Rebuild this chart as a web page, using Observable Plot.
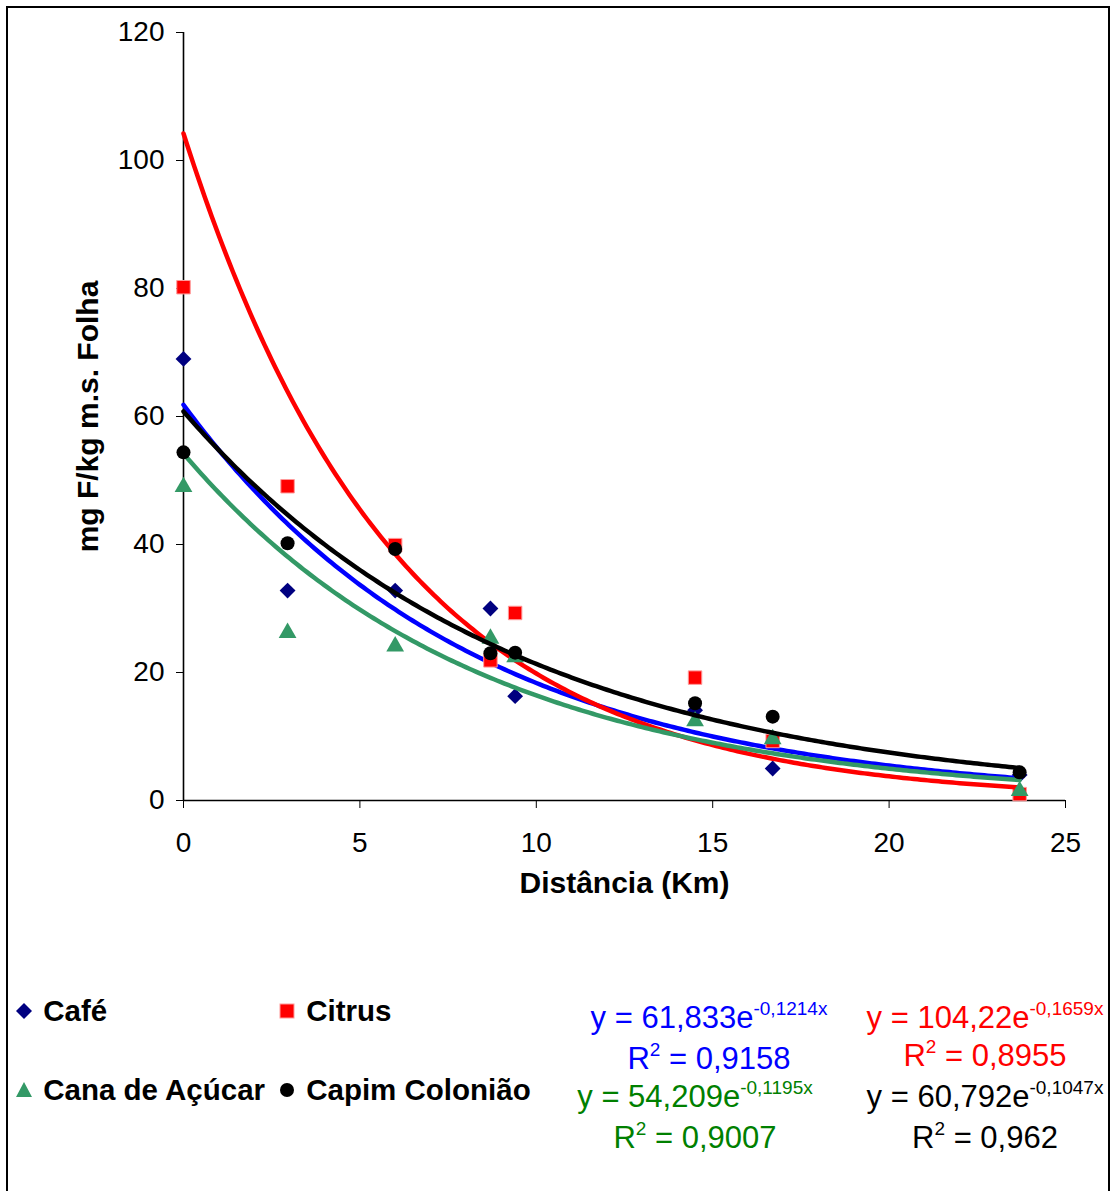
<!DOCTYPE html>
<html>
<head>
<meta charset="utf-8">
<script src="https://cdn.jsdelivr.net/npm/d3@7"></script>
<script src="https://cdn.jsdelivr.net/npm/@observablehq/plot@0.6"></script>
<style>
  html, body { margin: 0; padding: 0; background: #fff; }
  body { width: 1112px; height: 1191px; position: relative; overflow: hidden; font-family: "Liberation Sans", Arial, sans-serif; }
  #frame { position: absolute; left: 6px; top: 6px; width: 1104px; height: 1200px; box-sizing: border-box; border: 2px solid #000; pointer-events: none; z-index: 5; }
  #chart { position: absolute; left: 0; top: 0; }
  .leg { position: absolute; font-weight: bold; font-size: 29.5px; white-space: nowrap; line-height: 30px; height: 30px; }
  .leg svg { vertical-align: middle; margin-right: 2px; position: relative; top: -2px; }
  .eq { position: absolute; width: 320px; text-align: center; font-size: 31px; white-space: nowrap; line-height: 30px; height: 30px; }
  .eq sup { font-size: 19px; vertical-align: 0; position: relative; top: -13px; }
</style>
</head>
<body>
<div id="frame"></div>
<div id="chart"></div>
<script>
// ---- data ----
const seriesNames = ["Café", "Citrus", "Cana de Açúcar", "Capim Colonião"];
const distances = [0, 2.95, 6.0, 8.7, 9.4, 14.5, 16.7, 23.7];
const cafe   = [69.0, 32.8, 32.8, 30.0, 16.3, 14.1, 5.0, 4.0];
const citrus = [80.2, 49.1, 39.9, 21.9, 29.3, 19.2, 9.3, 1.0];
const cana   = [49.0, 26.2, 24.1, 25.3, 22.4, 12.4, 9.6, 1.5];
const capim  = [54.4, 40.2, 39.3, 23.0, 23.1, 15.2, 13.1, 4.4];
// exponential trend line coefficients y = a * e^(b x), as printed on the chart
const trendA = [61.833, 104.22, 54.209, 60.792];
const trendB = [-0.1214, -0.1659, -0.1195, -0.1047];
const trendR2 = ["0,9158", "0,8955", "0,9007", "0,962"];
const xTicks = [0, 5, 10, 15, 20, 25];
const yTicks = [0, 20, 40, 60, 80, 100, 120];

// ---- styles ----
const markerColors = ["#000080", "#FF0000", "#339966", "#000000"];
const lineColors = ["#0000FF", "#FF0000", "#339966", "#000000"];
const diamond = { draw(ctx, size) { const h = Math.sqrt(size) * 0.62; ctx.moveTo(0, -h); ctx.lineTo(h, 0); ctx.lineTo(0, h); ctx.lineTo(-h, 0); ctx.closePath(); } };
const symbols = [diamond, "square", "triangle", "circle"];
const radii = [7.2, 7.6, 6.6, 7.0];

const values = [cafe, citrus, cana, capim];
const points = values.map((vals, s) => distances.map((d, i) => ({ x: d, y: vals[i], s })));
const xMax = d3.max(distances);
const trendX = d3.range(0, xMax + 1e-9, 0.1).concat([xMax]);
const trends = trendA.map((a, s) => trendX.map(x => ({ x, y: a * Math.exp(trendB[s] * x) })));

const seriesMarks = [];
for (let s = 0; s < 4; s++) {
  seriesMarks.push(Plot.dot(points[s], {
    x: "x", y: "y", symbol: () => symbols[s], r: radii[s],
    fill: markerColors[s],
    stroke: s === 1 ? "#ff9a9a" : "none", strokeWidth: 1
  }));
  seriesMarks.push(Plot.line(trends[s], {
    x: "x", y: "y", stroke: lineColors[s], strokeWidth: 4.5, strokeLinejoin: "round"
  }));
}

const chart = Plot.plot({
  width: 1112,
  height: 930,
  marginLeft: 183,
  marginRight: 47,
  marginTop: 32,
  marginBottom: 130,
  x: { domain: [0, 25] },
  y: { domain: [0, 120] },
  symbol: { type: "identity" },
  style: { fontFamily: "'Liberation Sans', Arial, sans-serif", fontSize: "28px", color: "#000", background: "transparent", overflow: "visible" },
  marks: [
    Plot.axisY({ ticks: yTicks, tickSize: 7, tickPadding: 12, label: null, tickFormat: d => String(d) }),
    Plot.axisX({ ticks: xTicks, tickSize: 8, tickPadding: 24, label: null, tickFormat: d => String(d) }),
    Plot.ruleX([0], { strokeWidth: 1.6 }),
    Plot.ruleY([0], { strokeWidth: 1.6 }),
    ...seriesMarks,
    Plot.text(["mg F/kg m.s. Folha"], { frameAnchor: "left", dx: -95, rotate: -90, textAnchor: "middle", fontWeight: "bold", fontSize: 30 }),
    Plot.text(["Distância (Km)"], { frameAnchor: "bottom", dy: 92, fontWeight: "bold", fontSize: 30 })
  ]
});
document.getElementById("chart").appendChild(chart);

// ---- legend (HTML below the plot area) ----
function markerSvg(s) {
  const c = markerColors[s];
  let shape;
  if (s === 0) shape = `<path d="M9,1 L17,9 L9,17 L1,9 Z" fill="${c}"/>`;
  else if (s === 1) shape = `<rect x="2" y="2" width="14" height="14" fill="${c}" stroke="#ff9a9a" stroke-width="1"/>`;
  else if (s === 2) shape = `<path d="M9,1 L17,16 L1,16 Z" fill="${c}"/>`;
  else shape = `<circle cx="9" cy="9" r="7" fill="${c}"/>`;
  return `<svg width="18" height="18">${shape}</svg>`;
}
const legendPos = [[15, 996], [278, 996], [15, 1075], [278, 1075]];
seriesNames.forEach((name, s) => {
  const d = document.createElement("div");
  d.className = "leg";
  d.style.left = legendPos[s][0] + "px";
  d.style.top = legendPos[s][1] + "px";
  d.innerHTML = markerSvg(s) + " " + name;
  document.body.appendChild(d);
});

// ---- trend line equations ----
const eqColors = ["#0000FF", "#FF0000", "#008000", "#000000"];
const eqPos = [[709, 1003, 1044], [985, 1003, 1041], [695, 1082, 1123], [985, 1082, 1123]];
const fmt = v => String(v).replace(".", ",");
trendA.forEach((a, s) => {
  const e = document.createElement("div");
  e.className = "eq";
  e.style.color = eqColors[s];
  e.style.left = (eqPos[s][0] - 160) + "px";
  e.style.top = eqPos[s][1] + "px";
  e.innerHTML = `y = ${fmt(a)}e<sup>${fmt(trendB[s])}x</sup>`;
  document.body.appendChild(e);
  const r = document.createElement("div");
  r.className = "eq";
  r.style.color = eqColors[s];
  r.style.left = (eqPos[s][0] - 160) + "px";
  r.style.top = eqPos[s][2] + "px";
  r.innerHTML = `R<sup>2</sup> = ${trendR2[s]}`;
  document.body.appendChild(r);
});
</script>
</body>
</html>
